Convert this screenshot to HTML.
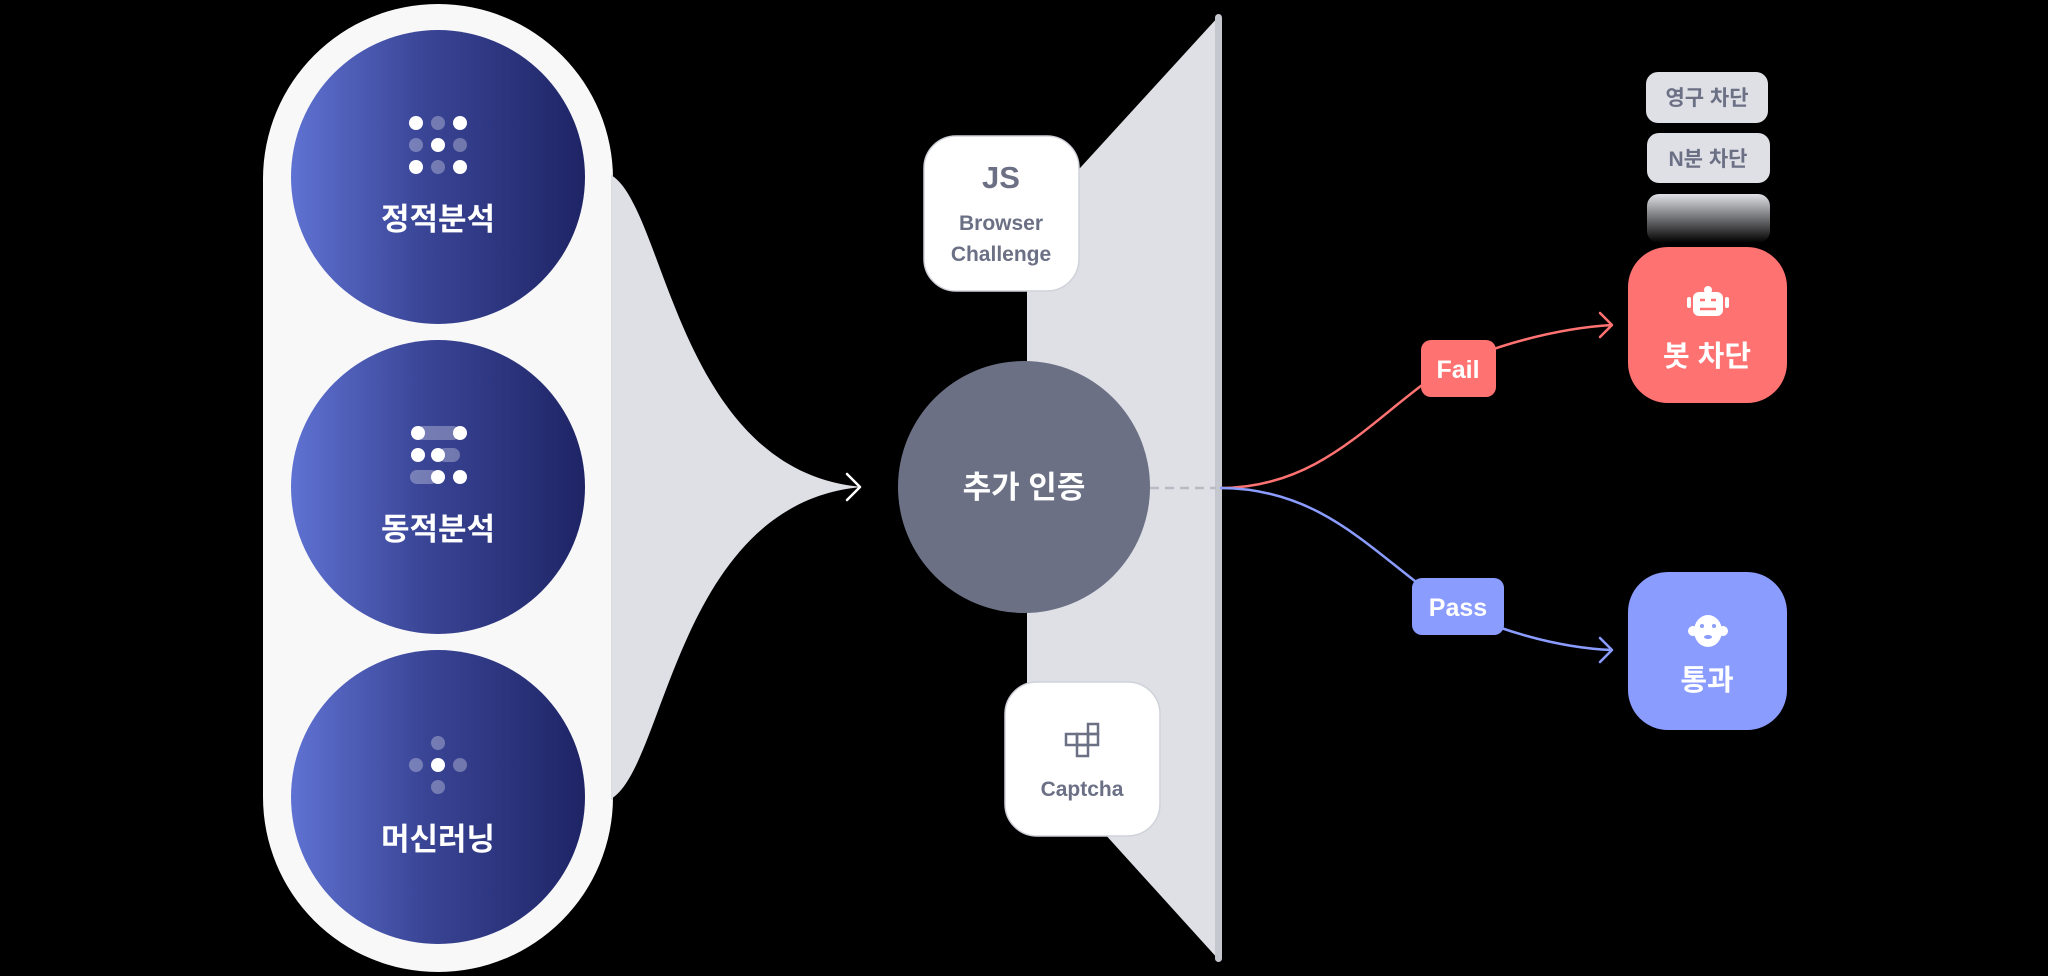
<!DOCTYPE html>
<html><head><meta charset="utf-8"><style>
html,body{margin:0;padding:0;background:#000;width:2048px;height:976px;overflow:hidden}
svg{display:block}
text{font-family:"Liberation Sans","Noto Sans CJK KR",sans-serif}
</style></head><body>
<svg width="2048" height="976" viewBox="0 0 2048 976" xmlns="http://www.w3.org/2000/svg">
<defs>
<linearGradient id="cg" x1="0" x2="1" y1="0" y2="0"><stop offset="0" stop-color="#5f72d2"/><stop offset="0.45" stop-color="#3a4596"/><stop offset="1" stop-color="#1e2465"/></linearGradient>
<linearGradient id="fg" x1="0" x2="0" y1="0" y2="1"><stop offset="0" stop-color="#e0e1e6"/><stop offset="1" stop-color="#000"/></linearGradient>
</defs>
<rect width="2048" height="976" fill="#000"/>
<!-- funnel -->
<path d="M600,172 C665,172 665,470 862,487 C665,504 665,802 600,802 Z" fill="#dfe0e6"/>
<!-- pill -->
<rect x="263" y="4" width="350" height="968" rx="175" fill="#f8f8f9"/>
<path d="M612,175 L612,800" stroke="#d4d5db" stroke-width="1.5"/>
<circle cx="438" cy="177" r="147" fill="url(#cg)"/>
<circle cx="438" cy="487" r="147" fill="url(#cg)"/>
<circle cx="438" cy="797" r="147" fill="url(#cg)"/>
<!-- icon 1 -->
<g fill="#fff">
<circle cx="416" cy="123" r="7"/><circle cx="460" cy="123" r="7"/><circle cx="438" cy="145" r="7"/><circle cx="416" cy="167" r="7"/><circle cx="460" cy="167" r="7"/>
</g>
<g fill="#fff" opacity="0.3">
<circle cx="438" cy="123" r="7"/><circle cx="416" cy="145" r="7"/><circle cx="460" cy="145" r="7"/><circle cx="438" cy="167" r="7"/>
</g>
<text x="438" y="230" font-size="31" font-weight="700" fill="#fff" text-anchor="middle">정적분석</text>
<!-- icon 2 -->
<g fill="#fff" opacity="0.3">
<rect x="416" y="426" width="44" height="14" rx="7"/><rect x="438" y="448" width="22" height="14" rx="7"/><rect x="410" y="470" width="28" height="14" rx="7"/>
</g>
<g fill="#fff">
<circle cx="418" cy="433" r="7"/><circle cx="460" cy="433" r="7"/><circle cx="418" cy="455" r="7"/><circle cx="438" cy="455" r="7"/><circle cx="438" cy="477" r="7"/><circle cx="460" cy="477" r="7"/>
</g>
<text x="438" y="540" font-size="31" font-weight="700" fill="#fff" text-anchor="middle">동적분석</text>
<!-- icon 3 -->
<g fill="#fff" opacity="0.3">
<circle cx="438" cy="743" r="7"/><circle cx="416" cy="765" r="7"/><circle cx="460" cy="765" r="7"/><circle cx="438" cy="787" r="7"/>
</g>
<circle cx="438" cy="765" r="7" fill="#fff"/>
<text x="438" y="850" font-size="31" font-weight="700" fill="#fff" text-anchor="middle">머신러닝</text>
<!-- arrow -->
<path d="M847,474 L860,487 L847,500" fill="none" stroke="#fff" stroke-width="2.5" stroke-linecap="round" stroke-linejoin="round"/>
<!-- trapezoid -->
<polygon points="1219,16 1027,226 1027,748 1219,960" fill="#dfe0e6"/>
<rect x="1215" y="14" width="7" height="948" rx="3.5" fill="#c5c7cf"/>
<!-- center circle -->
<circle cx="1024" cy="487" r="126" fill="#6b7085"/>
<text x="1024" y="498" font-size="31" font-weight="700" fill="#fff" text-anchor="middle">추가 인증</text>
<line x1="1150" y1="488" x2="1216" y2="488" stroke="#b9bbc4" stroke-width="2.5" stroke-dasharray="9,6"/>
<!-- JS box -->
<rect x="924" y="136" width="155" height="155" rx="32" fill="#fff" stroke="#d0d2da" stroke-width="1.5"/>
<text x="1001" y="188" font-size="31" font-weight="700" fill="#6b7085" text-anchor="middle">JS</text>
<text x="1001" y="230" font-size="21" font-weight="700" fill="#6b7085" text-anchor="middle">Browser</text>
<text x="1001" y="261" font-size="21" font-weight="700" fill="#6b7085" text-anchor="middle">Challenge</text>
<!-- Captcha box -->
<rect x="1005" y="682" width="155" height="154" rx="32" fill="#fff" stroke="#d0d2da" stroke-width="1.5"/>
<g fill="none" stroke="#6b7085" stroke-width="2.5">
<rect x="1088" y="724" width="10" height="10"/><rect x="1066" y="734" width="11" height="11"/><rect x="1077" y="734" width="11" height="11"/><rect x="1088" y="734" width="10" height="11"/><rect x="1077" y="745" width="11" height="11"/>
</g>
<text x="1082" y="796" font-size="21" font-weight="700" fill="#6b7085" text-anchor="middle">Captcha</text>
<!-- curves -->
<path d="M1220,488 C1320,488 1370,420 1440,372 C1490,345 1560,328 1612,325" fill="none" stroke="#ff7272" stroke-width="2.5"/>
<path d="M1600,313 L1612,325 L1600,337" fill="none" stroke="#ff7272" stroke-width="2.5" stroke-linecap="round" stroke-linejoin="round"/>
<path d="M1220,488 C1320,488 1370,550 1440,600 C1490,630 1560,648 1612,650" fill="none" stroke="#8b9cff" stroke-width="2.5"/>
<path d="M1600,638 L1612,650 L1600,662" fill="none" stroke="#8b9cff" stroke-width="2.5" stroke-linecap="round" stroke-linejoin="round"/>
<rect x="1421" y="340" width="75" height="57" rx="10" fill="#ff7272"/>
<text x="1458" y="378" font-size="25" font-weight="700" fill="#fff" text-anchor="middle">Fail</text>
<rect x="1412" y="578" width="92" height="57" rx="10" fill="#8b9cff"/>
<text x="1458" y="616" font-size="25" font-weight="700" fill="#fff" text-anchor="middle">Pass</text>
<!-- right boxes -->
<rect x="1646" y="72" width="122" height="51" rx="12" fill="#dfe0e6"/>
<text x="1707" y="105" font-size="21" font-weight="700" fill="#6b7085" text-anchor="middle">영구 차단</text>
<rect x="1647" y="133" width="123" height="50" rx="12" fill="#dfe0e6"/>
<text x="1708" y="166" font-size="21" font-weight="700" fill="#6b7085" text-anchor="middle">N분 차단</text>
<rect x="1647" y="194" width="123" height="49" rx="12" fill="url(#fg)"/>
<rect x="1628" y="247" width="159" height="156" rx="40" fill="#ff7272"/>
<g fill="#fff">
<circle cx="1708" cy="290" r="4"/>
<rect x="1693" y="292" width="30" height="24" rx="6"/>
<rect x="1687" y="297" width="4" height="11" rx="2"/><rect x="1725" y="297" width="4" height="11" rx="2"/>
</g>
<g stroke="#ff7272" stroke-width="2.5"><line x1="1700" y1="300" x2="1705" y2="300"/><line x1="1711" y1="300" x2="1716" y2="300"/><line x1="1700" y1="309" x2="1716" y2="309"/></g>
<text x="1707" y="366" font-size="29" font-weight="700" fill="#fff" text-anchor="middle">봇 차단</text>
<rect x="1628" y="572" width="159" height="158" rx="40" fill="#8b9cff"/>
<g fill="#fff">
<ellipse cx="1708" cy="631" rx="14" ry="16"/>
<circle cx="1693" cy="631" r="5"/><circle cx="1723" cy="631" r="5"/>
</g>
<g fill="#8b9cff"><circle cx="1702" cy="626" r="2"/><circle cx="1714" cy="626" r="2"/><ellipse cx="1708" cy="637" rx="4" ry="2"/></g>
<text x="1707" y="690" font-size="29" font-weight="700" fill="#fff" text-anchor="middle">통과</text>
</svg>
</body></html>
